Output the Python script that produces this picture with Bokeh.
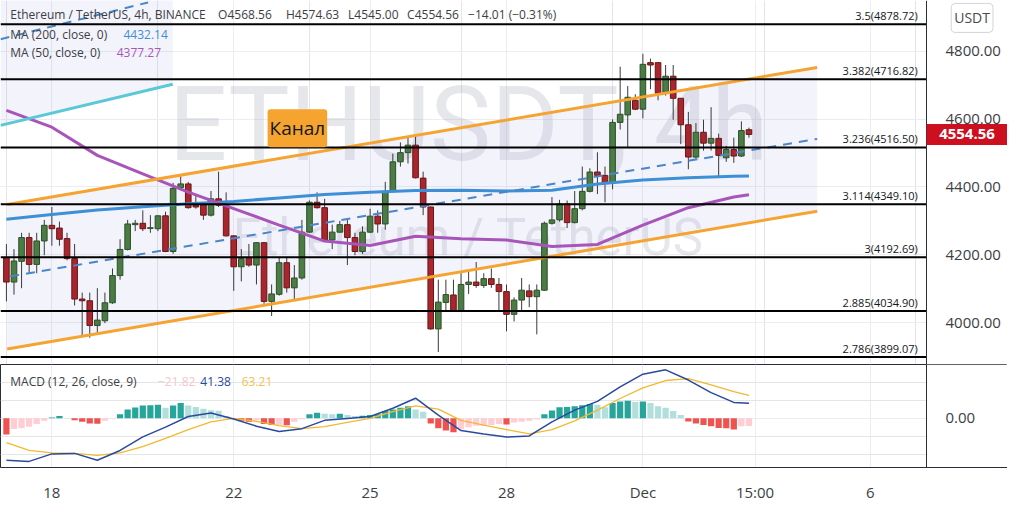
from bokeh.plotting import figure
from bokeh.layouts import column
from bokeh.models import (Range1d, FixedTicker, Grid, Label, LinearAxis, BoxAnnotation,
                          NumeralTickFormatter)
from bokeh.core.properties import value
from bokeh.embed import file_html
from bokeh.resources import INLINE

# ---------------- data (4h candles, index 0 = Nov 17 00:00) ----------------
opens = [4192,4120,4181,4251,4172,4241,4287,4279,4248,4189,4070,4065,3992,4006,4059,4139,4216,4289,4293,4278,
         4277,4315,4210,4398,4409,4347,4347,4317,4365,4346,4256,4165,4191,4170,4236,4063,4084,4177,4103,4132,
         4267,4355,4339,4244,4267,4289,4251,4210,4267,4314,4291,4387,4474,4501,4523,4426,4341,3982,4060,4082,
         4035,4113,4120,4110,4130,4113,4092,4025,4067,4094,4077,4096,4293,4303,4350,4295,4336,4387,4444,4434,
         4412,4590,4612,4655,4629,4766,4766,4676,4726,4661,4583,4488,4561,4529,4543,4486,4510,4491,4568.56]
highs = [4232,4217,4265,4265,4265,4303,4341,4298,4265,4232,4089,4089,4102,4089,4160,4246,4303,4303,4331,4317,
         4317,4327,4412,4433,4415,4379,4350,4388,4445,4384,4257,4217,4232,4237,4237,4113,4194,4194,4170,4303,
         4360,4384,4365,4289,4300,4308,4265,4284,4336,4331,4415,4498,4531,4550,4550,4445,4342,4127,4127,4127,
         4146,4151,4179,4146,4160,4132,4113,4075,4132,4113,4113,4298,4370,4362,4360,4388,4460,4455,4502,4460,
         4599,4754,4697,4673,4792,4778,4766,4759,4759,4661,4621,4588,4598,4635,4557,4521,4545,4593,4574.63]
lows = [4063,4083,4102,4146,4146,4199,4227,4227,4184,4051,3961,3956,3971,3999,4056,4127,4213,4270,4270,4265,
        4270,4208,4203,4393,4336,4336,4303,4313,4341,4254,4094,4122,4165,4113,4056,4020,4080,4089,4070,4127,
        4265,4336,4241,4217,4265,4170,4199,4203,4265,4265,4274,4384,4460,4469,4425,4317,3980,3914,4037,4032,
        4032,4085,4103,4103,4103,4037,3975,4004,4037,4046,3966,4094,4289,4298,4279,4293,4331,4384,4379,4355,
        4393,4569,4517,4626,4602,4688,4655,4669,4598,4526,4452,4484,4507,4507,4427,4474,4471,4488,4545.00]
closes = [4120,4182,4251,4172,4241,4287,4277,4246,4189,4070,4065,3992,4008,4059,4139,4216,4291,4293,4277,4280,
          4315,4210,4396,4409,4339,4341,4317,4365,4346,4256,4165,4189,4170,4236,4063,4085,4177,4103,4132,4267,
          4355,4339,4244,4267,4289,4251,4210,4267,4314,4291,4387,4474,4501,4523,4427,4341,3982,4061,4083,4035,
          4113,4120,4110,4130,4113,4092,4025,4067,4096,4077,4096,4293,4303,4350,4295,4336,4387,4444,4434,4412,
          4590,4614,4664,4629,4761,4759,4676,4726,4661,4583,4488,4561,4529,4543,4493,4510,4491,4566,4554.56]

# moving averages, read every 6 candles
ma_idx = [0, 6, 12, 18, 24, 30, 36, 42, 48, 54, 60, 66, 72, 78, 84, 90, 96, 98]
ma200 = [4304.8, 4319, 4331.9, 4341.9, 4350.4, 4357.5, 4367.5, 4377.5, 4384.6, 4389.4, 4390.3, 4388,
         4390.3, 4408.8, 4420.8, 4427.4, 4431.6, 4432.14]
ma50 = [4625.4, 4576, 4493, 4438.7, 4384.6, 4336.2, 4287.7, 4240.7, 4227.9, 4254.9, 4247.8, 4243.5,
        4225, 4230.7, 4287.7, 4339, 4370.4, 4377.27]

# MACD (12, 26, close, 9)
macd_hist = [-45, -29.7, -28, -23.4, -16.2, -7.2, 1.8, 6.3, 0.5, -5.4, -9.9, -14.4, -15.3, -7.2, -1.5, 10.8,
             24.3, 29.7, 35.1, 36, 37.8, 28.8, 35.1, 42.3, 35.1, 31.5, 26.1, 22.5, 20.7, 6.3, -0.9, -7.2,
             -9.9, -5.4, -16.2, -18.9, -18.3, -19.8, -9.9, -2.7, 10.8, 15.3, 12.6, 10.8, 12.6, 9, 6.3, 7.2,
             9, 10.8, 19.8, 24.3, 28.8, 33.3, 24.3, 18, -14.4, -27.9, -34.2, -38.7, -29.7, -25.2, -20.7,
             -20.7, -18.9, -16.2, -17.1, -11.7, -9.9, -7.2, -3.6, 10.8, 21.6, 30.6, 31.5, 33.3, 36, 39.6,
             37.8, 30.6, 42.3, 46.8, 48.6, 45, 46.8, 42.3, 33.3, 28.8, 19.8, 9, -9, -14.4, -18.9, -22.5,
             -27, -27.9, -31.5, -22.5, -21.82]
macd_idx = [0, 3, 6, 9, 12, 15, 18, 21, 24, 27, 30, 33, 36, 39, 42, 45, 48, 51, 54, 57, 60, 63, 66, 69,
            72, 75, 78, 81, 84, 87, 90, 93, 96, 98]
macd_line = [-116.6, -119.9, -99.1, -97.7, -116.6, -89.6, -51.8, -24.8, 4.9, 14.3, -1.9, -22.1, -37.0,
             -28.9, -5.9, -0.5, 4.9, 27.8, 55.6, 8.6, -34.3, -43.7, -52.4, -49.1, -10.0, 22.4, 46.7, 87.2,
             122.3, 134.5, 106.1, 71.0, 44.0, 41.38]
signal_line = [-68.0, -89.6, -96.4, -97.7, -103.1, -96.4, -78.8, -55.9, -31.6, -10.0, -0.5, -8.6, -20.8,
               -28.9, -23.5, -11.3, -0.5, 18.4, 34.6, 25.1, -5.9, -19.4, -31.6, -43.7, -31.6, -7.3, 22.4,
               54.8, 84.5, 104.8, 110.2, 92.6, 73.7, 63.21]

# drawings: (candle index, price) end points
channel_upper = [(0.1, 4348.4), (107.0, 4751.7)]
channel_lower = [(0.1, 3922.9), (107.0, 4328.7)]
channel_mid = [(0.5, 4136.7), (107.0, 4541.4)]
old_channel_lower = [(-0.78, 4581.3), (21.95, 4702.4)]
old_channel_mid = [(-0.78, 4834.9), (18.7, 4943.2)]
fib_levels = [4878.72, 4716.82, 4516.50, 4349.10, 4192.69, 4034.90, 3899.07]
fib_ratios = ["3.5", "3.382", "3.236", "3.114", "3", "2.885", "2.786"]

day_ticks = [6, 30, 48, 66, 84, 98.8, 114]
day_labels = ["18", "22", "25", "28", "Dec", "15:00", "6"]
price_ticks = [4000, 4200, 4400, 4600, 4800]
last_price = 4554.56

# ---------------- figure geometry ----------------
W, H1, H2 = 1007, 364, 103
X0, AXIS_X = -0.78, 121.43
X1 = X0 + W * (AXIS_X - X0) / 926.0
Y0, Y1 = 3877.3, 4948.9
PX = (Y1 - Y0) / H1          # price units per pixel
FONT = "Open Sans"
TXT = "#3b3e45"
GRID = "#ececf1"
SEP = "#2a2e39"

xr = Range1d(X0, X1)
p = figure(frame_width=W, frame_height=H1, x_range=xr, y_range=Range1d(Y0, Y1),
           x_axis_location=None, y_axis_location=None, output_backend="svg",
           toolbar_location=None, min_border_left=0, min_border_right=0,
           min_border_top=0, min_border_bottom=0)
p.outline_line_color = None
p.background_fill_color = "white"
p.border_fill_color = "white"
p.add_layout(Grid(dimension=0, ticker=FixedTicker(ticks=day_ticks), grid_line_color=GRID))
p.add_layout(Grid(dimension=1, ticker=FixedTicker(ticks=price_ticks), grid_line_color=GRID))

# channel fills
up_x = [channel_upper[0][0], channel_upper[1][0], channel_lower[1][0], channel_lower[0][0]]
up_y = [channel_upper[0][1], channel_upper[1][1], channel_lower[1][1], channel_lower[0][1]]
p.patch(up_x, up_y, fill_color="#9c9ce0", fill_alpha=0.12, line_color=None)
ol = old_channel_lower
om = old_channel_mid
slope_m = (om[1][1] - om[0][1]) / (om[1][0] - om[0][0])
mid_at_end = om[0][1] + slope_m * (ol[1][0] - om[0][0])
p.patch([ol[0][0], ol[1][0], ol[1][0], ol[0][0]],
        [ol[0][1], ol[1][1], 2 * mid_at_end - ol[1][1], 2 * om[0][1] - ol[0][1]],
        fill_color="#9c9ce0", fill_alpha=0.12, line_color=None)

# watermark
p.add_layout(Label(x=468, y=H1 - 124, x_units="screen", y_units="screen", text="ETHUSDT, 4h",
                   text_align="center", text_baseline="middle", text_font="Roboto",
                   text_font_size="103px", text_color="#9aa0ae", text_alpha=0.25, level="underlay"))
p.add_layout(Label(x=468, y=H1 - 237, x_units="screen", y_units="screen", text="Ethereum / TetherUS",
                   text_align="center", text_baseline="middle", text_font="Roboto",
                   text_font_size="51px", text_color="#9aa0ae", text_alpha=0.25, level="underlay"))

# candles
idx = list(range(len(opens)))
up = [c >= o for o, c in zip(opens, closes)]
body_fill = ["#4a7c44" if u else "#a8262c" for u in up]
body_line = ["#2d4f29" if u else "#6a1519" for u in up]
p.segment(idx, highs, idx, lows, line_color="#3a3a3a", line_width=1)
p.vbar(x=idx, top=[max(o, c) for o, c in zip(opens, closes)],
       bottom=[min(o, c) for o, c in zip(opens, closes)], width=0.74,
       fill_color=body_fill, line_color=body_line, line_width=1)

# moving averages
p.line(ma_idx, ma200, line_color="#3d8fd6", line_width=3)
p.line(ma_idx, ma50, line_color="#a855ba", line_width=3)

# channels
p.line([a for a, b in old_channel_lower], [b for a, b in old_channel_lower], line_color="#5bc8d6", line_width=3)
p.line([a for a, b in old_channel_mid], [b for a, b in old_channel_mid], line_color="#4a86c8",
       line_width=2, line_dash="9 7")
for ch in (channel_upper, channel_lower):
    p.line([a for a, b in ch], [b for a, b in ch], line_color="#f5a431", line_width=3)
p.line([a for a, b in channel_mid], [b for a, b in channel_mid], line_color="#4a86c8",
       line_width=2, line_dash="9 7")

# fibonacci levels
p.segment(x0=[X0] * len(fib_levels), x1=[AXIS_X] * len(fib_levels), y0=fib_levels, y1=fib_levels,
          line_color="#000000", line_width=2)
p.text(x=[AXIS_X - 1.15] * len(fib_levels), y=fib_levels,
       text=[f"{r}({l:.2f})" for r, l in zip(fib_ratios, fib_levels)],
       text_align="right", text_baseline="bottom", y_offset=-1,
       text_font=value(FONT), text_font_size="11px", text_color="#131722")

# blank price-scale area (right of the separator)
p.add_layout(BoxAnnotation(left=AXIS_X, fill_color="white", fill_alpha=1, line_color=None, level="glyph"))

# price scale (drawn at the separator, labels to the right)
yax = LinearAxis(fixed_location=AXIS_X, ticker=FixedTicker(ticks=price_ticks),
                 formatter=NumeralTickFormatter(format="0.00"))
yax.major_tick_line_color = None
yax.minor_tick_line_color = None
yax.axis_line_color = SEP
yax.major_label_standoff = 13
yax.major_label_text_font = FONT
yax.major_label_text_font_size = "15px"
yax.major_label_text_color = TXT
p.add_layout(yax, "right")

# last-price tag on the price scale
p.add_layout(BoxAnnotation(left=AXIS_X, bottom=last_price - 10.5 * PX, top=last_price + 10.5 * PX,
                           fill_color="#cc1020", fill_alpha=1, line_color=None, level="annotation"))
p.add_layout(Label(x=(AXIS_X + X1) / 2, y=last_price, text=f"{last_price:.2f}", text_align="center",
                   text_baseline="middle", text_font=FONT, text_font_size="15px",
                   text_font_style="bold", text_color="white"))

# channel label
p.add_layout(Label(x=38.4, y=4572.7, text="Канал", text_align="center", text_baseline="middle",
                   text_font=FONT, text_font_size="19px", text_color="#131722",
                   background_fill_color="#f6a430", padding=(2, 6), border_radius=3))

# legend texts
def lab(fig, x, y, text, color=TXT, size="12px", **kw):
    fig.add_layout(Label(x=x, y=y, x_units="screen", y_units="screen", text=text,
                         text_font=FONT, text_font_size=size, text_color=color,
                         text_baseline="middle", **kw))

r1 = H1 - 13.6
lab(p, 9.8, r1, "Ethereum / TetherUS, 4h, BINANCE")
lab(p, 217.6, r1, "O4568.56")
lab(p, 285.5, r1, "H4574.63")
lab(p, 347.5, r1, "L4545.00")
lab(p, 406.6, r1, "C4554.56")
lab(p, 467.6, r1, "\u221214.01 (\u22120.31%)")
lab(p, 9.8, H1 - 33.9, "MA (200, close, 0)")
lab(p, 123, H1 - 33.9, f"{ma200[-1]:.2f}", color="#3d8fd6")
lab(p, 9.8, H1 - 52.3, "MA (50, close, 0)")
lab(p, 116.2, H1 - 52.3, f"{ma50[-1]:.2f}", color="#a855ba")

# currency box
lab(p, 971.6, H1 - 17.4, "USDT", color="#4a4a4a", size="14px", text_align="center",
    background_fill_color="white", border_line_color="#d1d4dc", border_radius=4, padding=(3, 5))

# ---------------- MACD pane ----------------
p2 = figure(frame_width=W, frame_height=H2, x_range=xr, y_range=Range1d(-136.9, 149.3),
            y_axis_location=None, output_backend="svg", toolbar_location=None,
            min_border_left=0, min_border_right=0, min_border_top=0, min_border_bottom=30)
p2.outline_line_color = SEP
p2.background_fill_color = "white"
p2.border_fill_color = "white"
xax = p2.xaxis[0]
xax.ticker = FixedTicker(ticks=day_ticks)
xax.major_label_overrides = dict(zip(day_ticks, day_labels))
xax.major_tick_line_color = None
xax.minor_tick_line_color = None
xax.axis_line_color = SEP
xax.major_label_standoff = 8
xax.major_label_text_font = FONT
xax.major_label_text_font_size = "15px"
xax.major_label_text_color = TXT
p2.xgrid.grid_line_color = GRID
p2.add_layout(Grid(dimension=1, ticker=FixedTicker(ticks=[0]), grid_line_color=GRID))

hist_colors = []
prev = None
for h in macd_hist:
    if h >= 0:
        c = "#26a69a" if (prev is None or h > prev) else "#b2dfdb"
    else:
        c = "#ef5350" if (prev is None or h < prev) else "#ffcdd2"
    hist_colors.append(c)
    prev = h
p2.vbar(x=idx, top=macd_hist, bottom=0, width=0.82, fill_color=hist_colors, line_color=None)
p2.line(macd_idx, signal_line, line_color="#f2b930", line_width=1.3)
p2.line(macd_idx, macd_line, line_color="#2a4a9e", line_width=1.5)
p2.add_layout(BoxAnnotation(left=AXIS_X, fill_color="white", fill_alpha=1, line_color=None, level="glyph"))

y2 = LinearAxis(fixed_location=AXIS_X, ticker=FixedTicker(ticks=[0]),
                formatter=NumeralTickFormatter(format="0.00"))
y2.major_tick_line_color = None
y2.minor_tick_line_color = None
y2.axis_line_color = SEP
y2.major_label_standoff = 13
y2.major_label_text_font = FONT
y2.major_label_text_font_size = "15px"
y2.major_label_text_color = TXT
p2.add_layout(y2, "right")

m1 = H2 - 17.4
lab(p2, 9.8, m1, "MACD (12, 26, close, 9)")
lab(p2, 157.5, m1, f"\u2212{abs(macd_hist[-1]):.2f}", color="#f7c6cb")
lab(p2, 199.8, m1, f"{macd_line[-1]:.2f}", color="#2a4a9e")
lab(p2, 241.2, m1, f"{signal_line[-1]:.2f}", color="#f2c14e")

layout = column(p, p2)
open("out.html", "w").write(file_html(layout, INLINE))
